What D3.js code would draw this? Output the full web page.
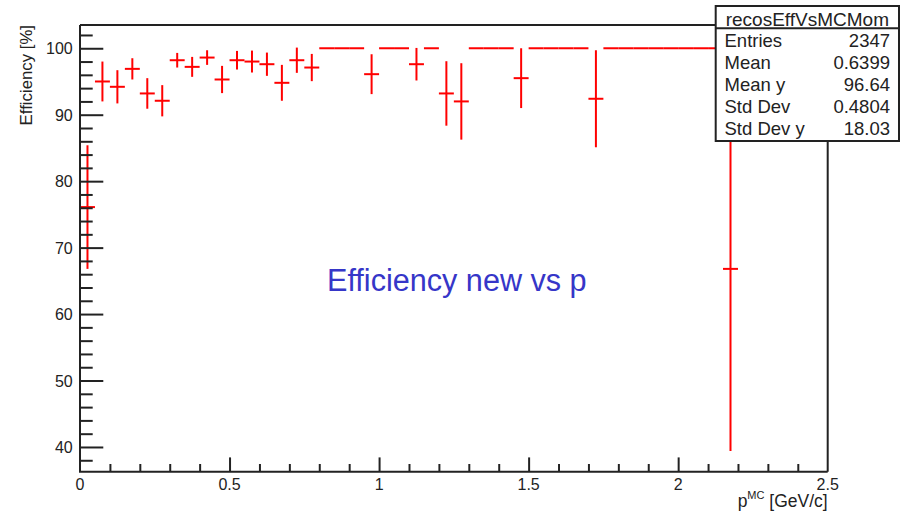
<!DOCTYPE html>
<html>
<head>
<meta charset="utf-8">
<script src="https://cdn.jsdelivr.net/npm/d3@7"></script>
<style>
  body { margin: 0; background: #fff; }
  text { font-family: "Liberation Sans", Arial, sans-serif; }
</style>
</head>
<body>
<svg id="svg1"></svg>
<script>
// histogram bins (centre of each 0.05 GeV/c bin), efficiency and its error
const binCentres = [0.025, 0.075, 0.125, 0.175, 0.225, 0.275, 0.325, 0.375, 0.425, 0.475,
  0.525, 0.575, 0.625, 0.675, 0.725, 0.775, 0.825, 0.875, 0.925, 0.975,
  1.025, 1.075, 1.125, 1.175, 1.225, 1.275, 1.325, 1.375, 1.425, 1.475,
  1.525, 1.575, 1.625, 1.675, 1.725, 1.775, 1.825, 1.875, 1.925, 1.975,
  2.025, 2.075, 2.125, 2.175];
const efficiency = [76.1, 95.0, 94.2, 96.9, 93.2, 92.1, 98.2, 97.2, 98.6, 95.3,
  98.2, 98.0, 97.6, 94.8, 98.2, 97.1, 100, 100, 100, 96.1,
  100, 100, 97.6, 100, 93.2, 92.0, 100, 100, 100, 95.5,
  100, 100, 100, 100, 92.4, 100, 100, 100, 100, 100,
  100, 100, 100, 66.8];
const effError = [9.3, 3.0, 2.5, 1.6, 2.3, 2.35, 1.1, 1.5, 1.1, 2.05,
  1.4, 1.65, 1.75, 2.7, 1.9, 2.05, 0, 0, 0, 3.0,
  0, 0, 2.45, 0, 4.85, 5.75, 0, 0, 0, 4.5,
  0, 0, 0, 0, 7.3, 0, 0, 0, 0, 0,
  0, 0, 0, 27.4];
const binWidth = 0.05;

const xTicks = [0, 0.5, 1, 1.5, 2, 2.5];
const xTickLabels = ["0", "0.5", "1", "1.5", "2", "2.5"];
const yTicks = [40, 50, 60, 70, 80, 90, 100];

const statHeader = "recosEffVsMCMom";
const statNames = ["Entries", "Mean", "Mean y", "Std Dev", "Std Dev y"];
const statValues = ["2347", "0.6399", "96.64", "0.4804", "18.03"];

// layout
const width = 901, height = 514;
const frame = {left: 80, right: 827.7, top: 25, bottom: 471.7};
const ink = "#222";

const svg = d3.select('#svg1')
    .attr('width', width)
    .attr('height', height);

const x = d3.scaleLinear().domain([0, 2.5]).range([frame.left, frame.right]);
const y = d3.scaleLinear().domain([36.28, 103.5]).range([frame.bottom, frame.top]);

// frame top & right
svg.append("path")
    .attr("d", `M${frame.left},${frame.top}H${frame.right}V${frame.bottom}`)
    .attr("fill", "none").attr("stroke", ink).attr("stroke-width", 2);

// data: horizontal bin bars + vertical error bars
const bins = svg.append("g").attr("stroke", "#ff0000").attr("stroke-width", 2);
bins.selectAll("line.h")
    .data(binCentres)
    .enter().append("line")
    .attr("class", "h")
    .attr("x1", d => x(d - binWidth / 2))
    .attr("x2", d => x(d + binWidth / 2))
    .attr("y1", (d, i) => y(efficiency[i]))
    .attr("y2", (d, i) => y(efficiency[i]));
bins.selectAll("line.v")
    .data(binCentres.filter((d, i) => effError[i] > 0))
    .enter().append("line")
    .attr("class", "v")
    .attr("x1", d => x(d))
    .attr("x2", d => x(d))
    .attr("y1", d => { const i = binCentres.indexOf(d); return y(efficiency[i] + effError[i]); })
    .attr("y2", d => { const i = binCentres.indexOf(d); return y(efficiency[i] - effError[i]); });

// Y axis (ticks point inside, ROOT style)
const yAxis = d3.axisRight(y)
    .tickValues(d3.range(38, 103, 2))
    .tickSize(12.7)
    .tickFormat("");
const gy = svg.append("g")
    .attr("transform", `translate(${frame.left},0)`)
    .call(yAxis);
gy.selectAll(".tick line")
    .attr("stroke", ink).attr("stroke-width", 2)
    .attr("x2", d => yTicks.includes(d) ? 23.3 : 12.7);
gy.select(".domain").remove();
svg.selectAll("text.ylab")
    .data(yTicks)
    .enter().append("text")
    .attr("class", "ylab")
    .attr("x", 72.7)
    .attr("y", d => y(d) + 6)
    .attr("text-anchor", "end")
    .attr("font-size", 16)
    .attr("fill", ink)
    .text(d => d);

// X axis
const xAxis = d3.axisTop(x)
    .tickValues(d3.range(1, 25).map(k => k / 10))
    .tickSize(7.7)
    .tickFormat("");
const gx = svg.append("g")
    .attr("transform", `translate(0,${frame.bottom})`)
    .call(xAxis);
gx.selectAll(".tick line")
    .attr("stroke", ink).attr("stroke-width", 2)
    .attr("y2", d => xTicks.some(t => Math.abs(t - d) < 1e-9) ? -14.3 : -7.7);
gx.select(".domain").remove();
svg.selectAll("text.xlab")
    .data(xTicks)
    .enter().append("text")
    .attr("class", "xlab")
    .attr("x", d => x(d))
    .attr("y", 489.5)
    .attr("text-anchor", "middle")
    .attr("font-size", 16)
    .attr("fill", ink)
    .text((d, i) => xTickLabels[i]);

// left & bottom axis lines
svg.append("path")
    .attr("d", `M${frame.left},${frame.top}V${frame.bottom}H${frame.right}`)
    .attr("fill", "none").attr("stroke", ink).attr("stroke-width", 2);

// axis titles
svg.append("text")
    .attr("transform", `translate(31.5,${frame.top}) rotate(-90)`)
    .attr("text-anchor", "end")
    .attr("font-size", 16.8)
    .attr("fill", ink)
    .text("Efficiency [%]");

const xt = svg.append("text")
    .attr("x", frame.right)
    .attr("y", 507)
    .attr("text-anchor", "end")
    .attr("font-size", 17.5)
    .attr("fill", ink);
xt.append("tspan").text("p");
xt.append("tspan").attr("font-size", 11).attr("dy", -8).text("MC");
xt.append("tspan").attr("dy", 8).text(" [GeV/c]");

// annotation
svg.append("text")
    .attr("x", 327)
    .attr("y", 291)
    .attr("font-size", 30.6)
    .attr("fill", "#3636c8")
    .text("Efficiency new vs p");

// stats box
const box = {left: 715.7, right: 899, top: 6, bottom: 141, split: 28.3};
svg.append("rect")
    .attr("x", box.left).attr("y", box.top)
    .attr("width", box.right - box.left).attr("height", box.bottom - box.top)
    .attr("fill", "#fff").attr("stroke", ink).attr("stroke-width", 2);
svg.append("line")
    .attr("x1", box.left).attr("x2", box.right)
    .attr("y1", box.split).attr("y2", box.split)
    .attr("stroke", ink).attr("stroke-width", 2);
svg.append("text")
    .attr("x", (box.left + box.right) / 2)
    .attr("y", 26)
    .attr("text-anchor", "middle")
    .attr("font-size", 19)
    .attr("fill", ink)
    .text(statHeader);
svg.selectAll("text.sname")
    .data(statNames)
    .enter().append("text")
    .attr("class", "sname")
    .attr("x", 724.5)
    .attr("y", (d, i) => 47 + i * 22)
    .attr("font-size", 18.5)
    .attr("fill", ink)
    .text(d => d);
svg.selectAll("text.sval")
    .data(statValues)
    .enter().append("text")
    .attr("class", "sval")
    .attr("x", 890)
    .attr("y", (d, i) => 47 + i * 22)
    .attr("text-anchor", "end")
    .attr("font-size", 18.5)
    .attr("fill", ink)
    .text(d => d);
</script>
</body>
</html>
